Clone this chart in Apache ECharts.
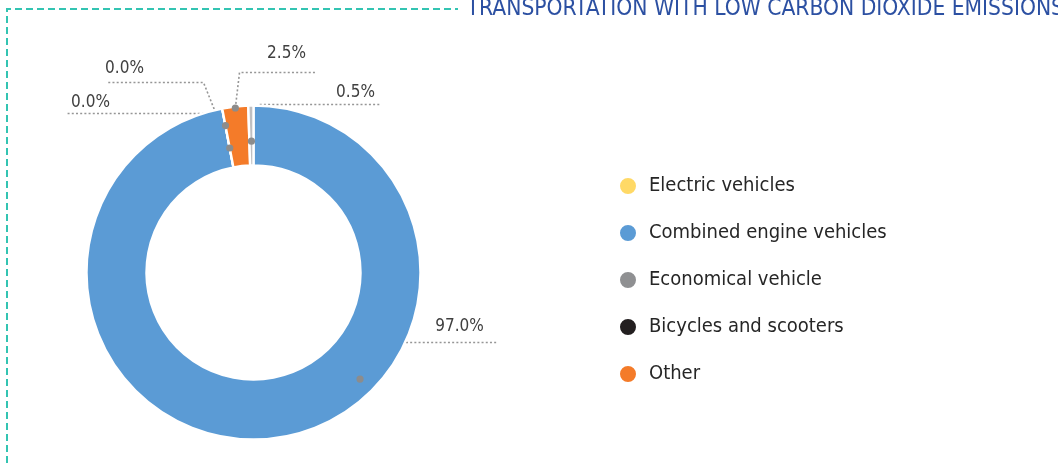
<!DOCTYPE html>
<html>
<head>
<meta charset="utf-8">
<script src="https://cdn.jsdelivr.net/npm/echarts@6/dist/echarts.min.js"></script>
<style>
  html, body { margin: 0; padding: 0; background: #ffffff; }
  #chart { width: 1058px; height: 463px; }
</style>
</head>
<body>
<div id="chart"></div>
<script>
// Share of vehicle types (percent)
const CATEGORIES = ['Electric vehicles', 'Combined engine vehicles', 'Economical vehicle', 'Bicycles and scooters', 'Other'];
const SHARES = [0.0, 97.0, 0.5, 0.0, 2.5];
// Order in which the slices run clockwise from 12 o'clock
const SLICE_ORDER = ['Combined engine vehicles', 'Electric vehicles', 'Bicycles and scooters', 'Other', 'Economical vehicle'];
const TITLE = 'TRANSPORTATION WITH LOW CARBON DIOXIDE EMISSIONS';

const SLICE_COLORS = ['#ffd966', '#5b9bd5', '#bfbfc1', '#231f20', '#f47b29'];
const LEGEND_COLORS = ['#ffd966', '#5b9bd5', '#8f9092', '#231f20', '#f47b29'];
const FONT = "'DejaVu Sans Condensed', 'Liberation Sans Narrow', sans-serif";

// Leader-line placement, offsets in px from the donut centre.
// anchor: where on the ring the dot sits (angle clockwise from top, or the slice middle;
// rFrac: 0 = inner edge, 1 = outer edge); knee/end: the line's bend and tail; text: label centre.
const LABEL_PLACEMENT = {
  'Combined engine vehicles': { angle: 135, rFrac: 0.74, knee: [120, 70], end: [243, 70], text: [206, 54] },
  'Other':                    { rFrac: 1.0,  knee: [-14, -200], end: [62, -200], text: [33, -219] },
  'Economical vehicle':       { rFrac: 0.40, knee: [6, -168], end: [127, -168], text: [102, -180] },
  'Electric vehicles':        { rFrac: 0.32, knee: [-50, -190], end: [-146, -190], text: [-129, -204] },
  'Bicycles and scooters':    { rFrac: 0.72, knee: [-46, -159], end: [-186, -159], text: [-163, -170] }
};

const chart = echarts.init(document.getElementById('chart'), null, { renderer: 'canvas' });

const pieData = SLICE_ORDER.map(name => {
  const i = CATEGORIES.indexOf(name);
  return { name: name, value: SHARES[i], itemStyle: { color: SLICE_COLORS[i] } };
});

function sliceLayout(dataIndex) {
  const series = chart.getModel() && chart.getModel().getSeriesByIndex(0);
  return series ? series.getData().getItemLayout(dataIndex) : null;
}

// Dot position on the ring for a slice, derived from the slice's own layout
function anchorPoint(dataIndex) {
  const lay = sliceLayout(dataIndex);
  if (!lay) return null;
  const p = LABEL_PLACEMENT[pieData[dataIndex].name];
  const ang = p.angle != null
    ? (p.angle - 90) * Math.PI / 180
    : (lay.startAngle + lay.endAngle) / 2;
  const rr = lay.r0 + 1.5 + (lay.r - lay.r0 - 3) * p.rFrac;
  return { cx: lay.cx, cy: lay.cy, x: lay.cx + rr * Math.cos(ang), y: lay.cy + rr * Math.sin(ang) };
}

chart.setOption({
  animation: false,
  title: {
    text: TITLE,
    right: -6,
    top: -2,
    padding: 0,
    textStyle: { fontFamily: FONT, fontSize: 22.6, fontWeight: 'normal', color: '#2c50a2' }
  },
  legend: {
    orient: 'vertical',
    left: 613,
    top: 169,
    itemWidth: 32,
    itemHeight: 18,
    itemGap: 23,
    icon: 'circle',
    selectedMode: false,
    textStyle: { fontFamily: FONT, fontSize: 20, lineHeight: 24, color: '#262626' },
    data: CATEGORIES.map((name, i) => ({ name: name, itemStyle: { color: LEGEND_COLORS[i] } }))
  },
  series: [{
    type: 'pie',
    center: [253.5, 272.5],
    radius: [107, 167],
    startAngle: 90,
    clockwise: true,
    avoidLabelOverlap: false,
    minShowLabelAngle: 0,
    itemStyle: { borderColor: '#ffffff', borderWidth: 2.4 },
    emphasis: { disabled: true },
    label: {
      show: true,
      position: 'outside',
      formatter: p => p.value.toFixed(1) + '%',
      fontFamily: FONT,
      fontSize: 17,
      color: '#404040'
    },
    labelLine: {
      show: true,
      smooth: false,
      lineStyle: { color: '#969696', width: 1.6, type: [2, 2.2] }
    },
    labelLayout: function (params) {
      const a = anchorPoint(params.dataIndex);
      if (!a) return {};
      const p = LABEL_PLACEMENT[pieData[params.dataIndex].name];
      return {
        x: a.cx + p.text[0],
        y: a.cy + p.text[1],
        align: 'center',
        verticalAlign: 'middle',
        labelLinePoints: [
          [a.x, a.y],
          [a.cx + p.knee[0], a.cy + p.knee[1]],
          [a.cx + p.end[0], a.cy + p.end[1]]
        ]
      };
    },
    data: pieData
  }]
});

// Frame and leader-line dots
const dots = pieData.map((d, i) => {
  const a = anchorPoint(i);
  return {
    type: 'circle',
    z: 100,
    shape: { cx: a.x, cy: a.y, r: 3.6 },
    style: { fill: '#8c8c8c' },
    silent: true
  };
});

chart.setOption({
  graphic: [
    {
      type: 'polyline',
      shape: { points: [[7, 463], [7, 9], [458, 9]] },
      style: { stroke: '#33c4b2', lineWidth: 2, lineDash: [7, 4], fill: null },
      silent: true
    }
  ].concat(dots)
});
</script>
</body>
</html>
